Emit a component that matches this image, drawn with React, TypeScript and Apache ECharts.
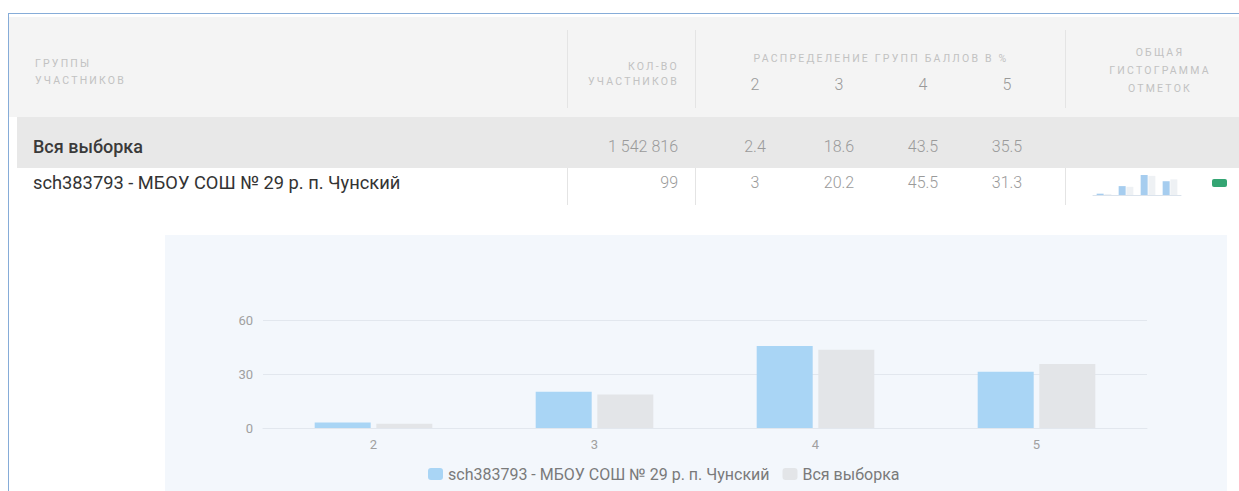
import React, { useEffect, useRef } from "react";
import * as echarts from "echarts";

const categories = ["2", "3", "4", "5"];
const schoolName = "sch383793 - МБОУ СОШ № 29 р. п. Чунский";
const allName = "Вся выборка";
const schoolValues = [3, 20.2, 45.5, 31.3];
const allValues = [2.4, 18.6, 43.5, 35.5];
const schoolCount = "99";
const allCount = "1 542 816";
const yTicks = [0, 30, 60];

const BLUE = "#a9d5f5";
const GRAY = "#e3e5e8";
const FONT = "Roboto, 'Noto Sans', sans-serif";

const valueCenters = [755, 839, 923, 1007];

function MainChart() {
  const ref = useRef<HTMLDivElement>(null);
  useEffect(() => {
    const chart = echarts.init(ref.current!, null, { renderer: "svg" });
    chart.setOption({
      animation: false,
      textStyle: { fontFamily: FONT },
      grid: { left: 98, right: 80, top: 85, bottom: 63 },
      legend: {
        left: 263,
        top: 231,
        padding: 0,
        itemWidth: 15,
        itemHeight: 12,
        itemGap: 13,
        textStyle: { color: "#7a7a7a", fontSize: 16, fontFamily: FONT },
        data: [schoolName, allName],
      },
      xAxis: {
        type: "category",
        data: categories,
        axisLine: { lineStyle: { color: "#e2e7ee" } },
        axisTick: { show: false },
        axisLabel: { color: "#a0a0a0", fontSize: 13, margin: 10 },
      },
      yAxis: {
        type: "value",
        min: yTicks[0],
        max: yTicks[yTicks.length - 1],
        interval: yTicks[1] - yTicks[0],
        axisLine: { show: false },
        axisTick: { show: false },
        axisLabel: { color: "#a0a0a0", fontSize: 13, margin: 10 },
        splitLine: { lineStyle: { color: "#e2e7ee" } },
      },
      series: [
        {
          name: schoolName,
          type: "bar",
          data: schoolValues,
          barWidth: 56,
          barGap: "10%",
          itemStyle: { color: BLUE },
        },
        {
          name: allName,
          type: "bar",
          data: allValues,
          barWidth: 56,
          barGap: "10%",
          itemStyle: { color: GRAY },
        },
      ],
    });
    return () => chart.dispose();
  }, []);
  return (
    <div
      ref={ref}
      style={{ position: "absolute", left: 165, top: 235, width: 1062, height: 256 }}
    />
  );
}

function MiniChart() {
  const ref = useRef<HTMLDivElement>(null);
  useEffect(() => {
    const chart = echarts.init(ref.current!, null, { renderer: "svg" });
    chart.setOption({
      animation: false,
      grid: { left: 3, right: 4, top: 3, bottom: 3 },
      xAxis: {
        type: "category",
        data: categories,
        axisLine: { lineStyle: { color: "#dbe3ec" } },
        axisTick: { show: false },
        axisLabel: { show: false },
      },
      yAxis: {
        type: "value",
        min: 0,
        max: 50,
        show: false,
        splitLine: { show: false },
      },
      series: [
        { type: "bar", data: schoolValues, barWidth: 7, barGap: "10%", itemStyle: { color: "#a6cdef" } },
        { type: "bar", data: allValues, barWidth: 7, barGap: "10%", itemStyle: { color: "#eef1f4" } },
      ],
    });
    return () => chart.dispose();
  }, []);
  return (
    <div
      ref={ref}
      style={{ position: "absolute", left: 1090, top: 170, width: 95, height: 28 }}
    />
  );
}

const headStyle: React.CSSProperties = {
  position: "absolute",
  fontFamily: FONT,
  fontSize: 10.5,
  letterSpacing: 2.2,
  color: "#c2c2c2",
  textTransform: "uppercase",
  whiteSpace: "nowrap",
};

function Abs(props: { x: number; y: number; children: React.ReactNode; style?: React.CSSProperties; align?: "left" | "center" | "right"; w?: number }) {
  const w = props.w ?? 200;
  const align = props.align ?? "left";
  let left = props.x;
  if (align === "center") left = props.x - w / 2;
  if (align === "right") left = props.x - w;
  return (
    <div
      style={{
        position: "absolute",
        left,
        top: props.y,
        width: w,
        textAlign: align,
        whiteSpace: "nowrap",
        ...props.style,
      }}
    >
      {props.children}
    </div>
  );
}

function VLine(props: { x: number; y1: number; y2: number }) {
  return (
    <div
      style={{
        position: "absolute",
        left: props.x,
        top: props.y1,
        width: 1,
        height: props.y2 - props.y1,
        background: "#e4e4e4",
      }}
    />
  );
}

export default function App() {
  const valStyle: React.CSSProperties = {
    fontFamily: FONT,
    fontSize: 16,
    fontWeight: 300,
    color: "#9a9a9a",
    lineHeight: "20px",
  };
  const nameStyle: React.CSSProperties = {
    fontFamily: FONT,
    fontSize: 18.3,
    color: "#333",
    lineHeight: "20px",
  };
  return (
    <div
      style={{
        position: "absolute",
        left: 0,
        top: 0,
        width: 1239,
        height: 491,
        overflow: "hidden",
        background: "#fff",
      }}
    >
      {/* frame */}
      <div style={{ position: "absolute", left: 8, top: 13, width: 1231, height: 1, background: "#86acd8" }} />
      <div style={{ position: "absolute", left: 8, top: 13, width: 1, height: 478, background: "#86acd8" }} />
      {/* header */}
      <div style={{ position: "absolute", left: 9, top: 17, width: 1230, height: 100, background: "#f4f4f4" }} />
      <VLine x={567} y1={30} y2={108} />
      <VLine x={695} y1={30} y2={108} />
      <VLine x={1065} y1={30} y2={108} />
      <div style={{ ...headStyle, left: 35, top: 55, lineHeight: "17px" }}>
        Группы
        <br />
        участников
      </div>
      <div style={{ ...headStyle, left: 477, width: 202, top: 59, lineHeight: "15px", textAlign: "right" }}>
        Кол-во
        <br />
        участников
      </div>
      <div style={{ ...headStyle, left: 680, width: 402, top: 51, lineHeight: "15px", textAlign: "center" }}>
        Распределение групп баллов в %
      </div>
      {categories.map((c, i) => (
        <Abs key={c} x={valueCenters[i]} y={75} align="center" w={40} style={{ ...valStyle, fontSize: 16, color: "#999" }}>
          {c}
        </Abs>
      ))}
      <div style={{ ...headStyle, left: 1060, width: 200, top: 44, lineHeight: "18px", textAlign: "center" }}>
        Общая
        <br />
        гистограмма
        <br />
        отметок
      </div>
      {/* all row */}
      <div style={{ position: "absolute", left: 17, top: 117, width: 1222, height: 51, background: "#e8e8e8" }} />
      <Abs x={33} y={137} w={400} style={{ ...nameStyle, fontSize: 18, fontWeight: 500, color: "#3a3a3a" }}>
        {allName}
      </Abs>
      <Abs x={678} y={137} align="right" w={150} style={valStyle}>
        {allCount}
      </Abs>
      {allValues.map((v, i) => (
        <Abs key={i} x={valueCenters[i]} y={137} align="center" w={60} style={valStyle}>
          {String(v)}
        </Abs>
      ))}
      {/* school row */}
      <VLine x={567} y1={168} y2={205} />
      <VLine x={695} y1={168} y2={205} />
      <VLine x={1065} y1={168} y2={205} />
      <Abs x={33} y={173} w={500} style={nameStyle}>
        {schoolName}
      </Abs>
      <Abs x={678} y={173} align="right" w={150} style={valStyle}>
        {schoolCount}
      </Abs>
      {schoolValues.map((v, i) => (
        <Abs key={i} x={valueCenters[i]} y={173} align="center" w={60} style={valStyle}>
          {String(v)}
        </Abs>
      ))}
      <MiniChart />
      <div style={{ position: "absolute", left: 1212, top: 179, width: 15, height: 8, borderRadius: 2, background: "#34a573" }} />
      {/* chart panel */}
      <div style={{ position: "absolute", left: 165, top: 235, width: 1062, height: 256, background: "#f3f7fc" }} />
      <MainChart />
    </div>
  );
}
